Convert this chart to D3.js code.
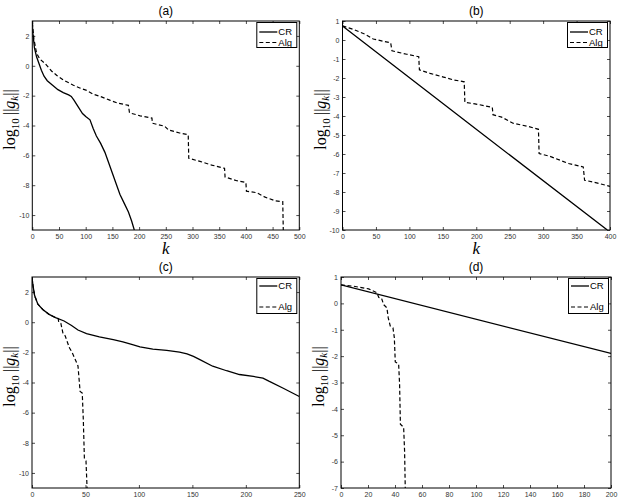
<!DOCTYPE html>
<html>
<head>
<meta charset="utf-8">
<script src="https://cdn.jsdelivr.net/npm/d3@7"></script>
<style>
  body { margin: 0; background: #fff; }
  svg { display: block; }
  .tick text { font-family: "Liberation Sans", Arial, sans-serif; font-size: 7px; fill: #333; }
  .tick line { stroke: #000; stroke-width: 0.7; }
</style>
</head>
<body>
<svg id="chart" width="619" height="500"></svg>
<script>
// ---- data: [k, log10 ||g_k||] ----
var crA = [[0,3],[1,2.2],[4,1.2],[8,0.6],[12,0.2],[17,-0.3],[22,-0.7],[28,-1.0],[38,-1.3],[48,-1.6],
  [58,-1.8],[68,-1.95],[73,-2.05],[78,-2.3],[86,-2.75],[94,-3.2],[100,-3.4],[108,-3.62],[114,-4.2],
  [120,-4.7],[128,-5.2],[136,-5.8],[143,-6.5],[150,-7.2],[157,-7.9],[164,-8.6],[172,-9.2],[180,-9.8],
  [186,-10.4],[191,-11]];
var algA = [[0,2.9],[3,1.8],[8,0.85],[14,0.45],[24,0.15],[30,-0.1],[36,-0.35],[46,-0.65],[58,-0.95],
  [77,-1.3],[90,-1.5],[102,-1.65],[114,-1.9],[127,-2.05],[145,-2.3],[160,-2.5],[180,-2.65],[182,-3.15],
  [202,-3.35],[224,-3.5],[225,-3.85],[248,-4.05],[255,-4.3],[276,-4.5],[292,-4.62],[293,-6.2],
  [314,-6.4],[336,-6.65],[360,-6.87],[361,-7.45],[383,-7.7],[400,-7.82],[401,-8.4],[420,-8.5],
  [436,-8.8],[455,-9.05],[469,-9.1],[470,-11]];

var crB = [[0,0.74],[200,-4.7],[396,-10]];
var algB = [[0,0.74],[16,0.56],[34,0.3],[46,0.05],[72,-0.15],[74,-0.57],[96,-0.75],[114,-0.88],
  [115,-1.57],[131,-1.76],[151,-1.95],[166,-2.1],[182,-2.2],[183,-3.28],[198,-3.36],[224,-3.54],
  [225,-3.93],[238,-4.06],[255,-4.38],[278,-4.55],[293,-4.7],[294,-5.98],[310,-6.12],[338,-6.5],
  [360,-6.68],[362,-7.38],[380,-7.52],[400,-7.7]];

var crC = [[0,2.96],[1,2.4],[2.5,1.75],[5.5,1.2],[10,0.85],[16,0.52],[22,0.3],[30,0.08],[37,-0.22],
  [43,-0.52],[51,-0.76],[63,-0.98],[76,-1.16],[85,-1.3],[94,-1.48],[101,-1.63],[113,-1.78],[126,-1.87],
  [138,-1.99],[145,-2.1],[151,-2.27],[157,-2.48],[169,-2.92],[182,-3.22],[194,-3.47],[207,-3.6],
  [216,-3.71],[222,-3.93],[235,-4.38],[250,-4.93]];
var algC = [[0,2.96],[1,2.4],[2.5,1.75],[5.5,1.2],[10,0.85],[16,0.52],[22,0.3],[24.5,0.25],[25,0.0],
  [27,-0.08],[29,-0.75],[31,-0.9],[35,-1.7],[37.5,-2.0],[40,-2.4],[43,-2.9],[45,-4.6],[47,-4.7],
  [48,-6.5],[49,-9.05],[50.5,-9.2],[51.5,-11]];

var crD = [[0,0.7],[200,-1.9]];
var algD = [[0,0.7],[9.4,0.65],[20.5,0.55],[26.6,0.4],[28,0.22],[30,0.2],[31.6,-0.05],[34,-0.17],
  [35,-0.55],[36.5,-0.86],[38.5,-0.93],[39.5,-1.3],[40.2,-2.22],[42.7,-2.3],[43.4,-3.07],[44,-4.58],
  [46.4,-4.7],[47.1,-5.6],[47.6,-7]];

// tick values and titles
var titles = ["(a)", "(b)", "(c)", "(d)"];
var xTicksA = d3.range(0, 501, 50), yTicksA = d3.range(-10, 3, 2);
var xTicksB = d3.range(0, 401, 50), yTicksB = d3.range(-10, 2, 1);
var xTicksC = d3.range(0, 251, 50), yTicksC = d3.range(-10, 3, 2);
var xTicksD = d3.range(0, 201, 20), yTicksD = d3.range(-7, 2, 1);
var legendLabels = ["CR", "Alg"];

// panel layout (pixel boxes)
var panels = [
  {title: titles[0], left: 32.3, right: 299.3, top: 21, bottom: 230, xDomain: [0,500], yDomain: [-11,3],
   xTicks: xTicksA, yTicks: yTicksA, cr: crA, alg: algA, legH: 25, legRows: [9.5, 20], xLabel: true},
  {title: titles[1], left: 342.5, right: 610, top: 21, bottom: 230, xDomain: [0,400], yDomain: [-10,1],
   xTicks: xTicksB, yTicks: yTicksB, cr: crB, alg: algB, legH: 25, legRows: [9.5, 20], xLabel: true},
  {title: titles[2], left: 32, right: 299.3, top: 277, bottom: 488, xDomain: [0,250], yDomain: [-11,3],
   xTicks: xTicksC, yTicks: yTicksC, cr: crC, alg: algC, legH: 35, legRows: [7.5, 28.5], xLabel: false},
  {title: titles[3], left: 341, right: 611, top: 277, bottom: 488, xDomain: [0,200], yDomain: [-7,1],
   xTicks: xTicksD, yTicks: yTicksD, cr: crD, alg: algD, legH: 35, legRows: [7.5, 28.5], xLabel: false}
];

var svg = d3.select("#chart");
svg.append("rect").attr("width", 619).attr("height", 500).attr("fill", "#fff");

var fmt = function (d) { return String(d); };
var serif = "'Liberation Serif', 'Times New Roman', serif";

panels.forEach(function (p, i) {
  var x = d3.scaleLinear().domain(p.xDomain).range([p.left, p.right]);
  var y = d3.scaleLinear().domain(p.yDomain).range([p.bottom, p.top]);
  var g = svg.append("g");

  // axes, ticks pointing inward on all four sides
  var ax = [
    g.append("g").attr("transform", "translate(0," + p.bottom + ")")
      .call(d3.axisBottom(x).tickValues(p.xTicks).tickSizeInner(-3).tickSizeOuter(0).tickPadding(4).tickFormat(fmt)),
    g.append("g").attr("transform", "translate(" + p.left + ",0)")
      .call(d3.axisLeft(y).tickValues(p.yTicks).tickSizeInner(-3).tickSizeOuter(0).tickPadding(3).tickFormat(fmt)),
    g.append("g").attr("transform", "translate(0," + p.top + ")")
      .call(d3.axisTop(x).tickValues(p.xTicks).tickSizeInner(-3).tickSizeOuter(0).tickFormat("")),
    g.append("g").attr("transform", "translate(" + p.right + ",0)")
      .call(d3.axisRight(y).tickValues(p.yTicks).tickSizeInner(-3).tickSizeOuter(0).tickFormat(""))
  ];
  ax.forEach(function (a) { a.select(".domain").remove(); });

  // clip to the plot box
  var clipId = "clip" + i;
  svg.append("clipPath").attr("id", clipId)
    .append("rect").attr("x", p.left).attr("y", p.top)
    .attr("width", p.right - p.left).attr("height", p.bottom - p.top);

  var line = d3.line().x(function (d) { return x(d[0]); }).y(function (d) { return y(d[1]); });

  g.append("path").datum(p.cr).attr("clip-path", "url(#" + clipId + ")")
    .attr("d", line).attr("fill", "none").attr("stroke", "#000").attr("stroke-width", 1.3);
  g.append("path").datum(p.alg).attr("clip-path", "url(#" + clipId + ")")
    .attr("d", line).attr("fill", "none").attr("stroke", "#000").attr("stroke-width", 1.2)
    .attr("stroke-dasharray", "4,2.5");

  // frame
  g.append("rect").attr("x", p.left).attr("y", p.top)
    .attr("width", p.right - p.left).attr("height", p.bottom - p.top)
    .attr("fill", "none").attr("stroke", "#000").attr("stroke-width", 1);

  // title
  g.append("text").attr("x", (p.left + p.right) / 2).attr("y", p.top - 6.5)
    .attr("text-anchor", "middle")
    .style("font-family", "'Liberation Sans', Arial, sans-serif").style("font-size", "12px")
    .text(p.title);

  // x label (the bottom row's falls below the picture)
  if (p.xLabel) {
    g.append("text").attr("x", (p.left + p.right) / 2).attr("y", p.bottom + 24)
      .attr("text-anchor", "middle")
      .style("font-family", serif).style("font-style", "italic").style("font-size", "17px")
      .text("k");
  }

  // y label: log10 ||g_k||
  var yl = g.append("text")
    .attr("transform", "translate(" + (p.left - 17) + "," + ((p.top + p.bottom) / 2 - 6) + ") rotate(-90)")
    .attr("text-anchor", "middle")
    .style("font-family", serif).style("font-size", "16px");
  yl.append("tspan").text("log");
  yl.append("tspan").attr("dy", 4).style("font-size", "11px").text("10");
  yl.append("tspan").attr("dy", -4).text("\u2009||");
  yl.append("tspan").style("font-style", "italic").text("g");
  yl.append("tspan").attr("dy", 3).style("font-size", "11px").style("font-style", "italic").text("k");
  yl.append("tspan").attr("dy", -3).text("||");

  // legend
  var lw = 40;
  var lg = g.append("g").attr("transform", "translate(" + (p.right - 2.5 - lw) + "," + (p.top + 1.5) + ")");
  lg.append("rect").attr("width", lw).attr("height", p.legH)
    .attr("fill", "#fff").attr("stroke", "#000").attr("stroke-width", 1);
  legendLabels.forEach(function (lab, j) {
    var ry = p.legRows[j];
    lg.append("line").attr("x1", 2.5).attr("x2", 20.5).attr("y1", ry).attr("y2", ry)
      .attr("stroke", "#000").attr("stroke-width", j === 0 ? 1.3 : 1.2)
      .attr("stroke-dasharray", j === 0 ? null : "4,2.5");
    lg.append("text").attr("x", 21.5).attr("y", ry).attr("dy", "0.35em")
      .style("font-family", "'Liberation Sans', Arial, sans-serif").style("font-size", "9.5px")
      .text(lab);
  });
});
</script>
</body>
</html>
